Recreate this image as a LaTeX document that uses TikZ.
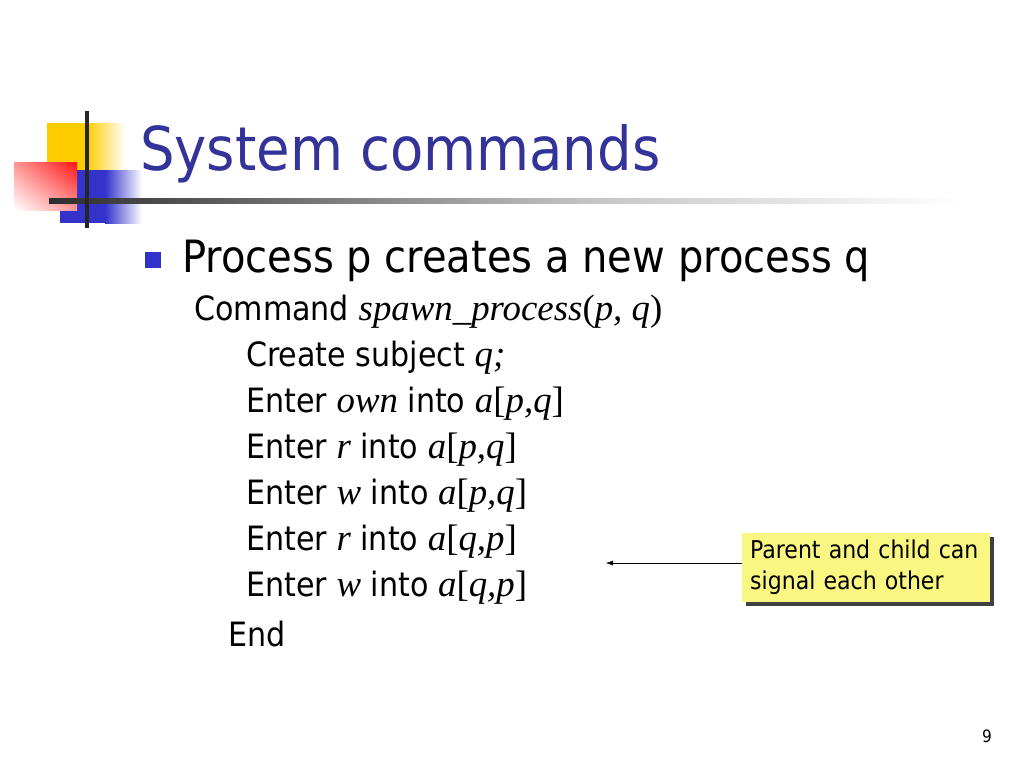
\documentclass[tikz,border=0pt]{standalone}
\usepackage{fontspec}
\setmainfont{DejaVu Sans Condensed}
\newfontfamily\tms{Liberation Serif}[Scale=1.1]
\usepackage{xcolor}
\usetikzlibrary{shapes, arrows, arrows.meta, shadows, shadings, positioning, calc}

\definecolor{titleblue}{RGB}{51,51,153}
\definecolor{bulletblue}{RGB}{51,51,204}
\definecolor{logoyellow}{RGB}{255,204,0}
\definecolor{logored}{RGB}{255,20,20}
\definecolor{notefill}{RGB}{250,246,130}
\definecolor{rulegray}{RGB}{45,45,45}

\newcommand{\ti}[1]{{\tms\itshape #1}}
\newcommand{\tu}[1]{{\tms #1}}

\tikzset{
  title/.style={anchor=base west, inner sep=0pt, text=titleblue, font=\fontsize{60.5}{70}\selectfont},
  level one/.style={anchor=base west, inner sep=0pt, font=\fontsize{44.5}{50}\selectfont},
  level two/.style={anchor=base west, inner sep=0pt, font=\fontsize{33.5}{40}\selectfont},
  note/.style={anchor=north west, fill=notefill, align=left, text width=232pt,
    minimum height=69pt, inner xsep=8pt, inner ysep=6pt,
    font=\fontsize{24.5}{31}\selectfont,
    drop shadow={shadow xshift=4pt, shadow yshift=-4pt, fill=black!75, opacity=1}},
}

\begin{document}
\begin{tikzpicture}[x=1pt,y=-1pt]
      \useasboundingbox[fill=white] (0,0) rectangle (1024,768);

      % logo
      \fill[logoyellow] (47,123) rectangle (87,170);
      \shade[left color=logoyellow, right color=white] (87,123) rectangle (125,170);
      \fill[bulletblue] (60,170) rectangle (105,223);
      \shade[left color=bulletblue, right color=white] (105,170) rectangle (142,223);
      \shade[upper left=logored!45, upper right=logored, lower left=white, lower right=logored!45]
        (14,162) rectangle (77,210);
      \shade[left color=rulegray, right color=black!22] (49,198) rectangle (600,203);
      \shade[left color=black!22, right color=white] (600,198) rectangle (962,203);
      \fill[black!85] (85,111) rectangle (89,228);

      % title and text
      \node[title] (title) at (140,170) {System commands};
      \fill[bulletblue] (145,252) rectangle (161,268);
      \node[level one] (create) at (182,272) {Process p creates a new process q};
      \node[level two] (cmd) at (194,320) {Command \ti{spawn\_process}\tu{(}\ti{p, q}\tu{)}};
      \node[level two] (subj) at (246,366) {Create subject \ti{q;}};
      \node[level two] (own) at (246,412) {Enter \ti{own} into \ti{a}\tu{[}\ti{p,q}\tu{]}};
      \node[level two] (rpq) at (246,458) {Enter \ti{r} into \ti{a}\tu{[}\ti{p,q}\tu{]}};
      \node[level two] (wpq) at (246,504) {Enter \ti{w} into \ti{a}\tu{[}\ti{p,q}\tu{]}};
      \node[level two] (rqp) at (246,550) {Enter \ti{r} into \ti{a}\tu{[}\ti{q,p}\tu{]}};
      \node[level two] (wqp) at (246,596) {Enter \ti{w} into \ti{a}\tu{[}\ti{q,p}\tu{]}};
      \node[level two] (end) at (228,646) {End};

      % callout
      \node[note] (sig) at (742,533) {Parent and child can\\signal each other};
      \coordinate (tip) at (606,563);
      \draw[-{Latex[length=7pt,width=5pt]}] (sig.west |- tip) -- (tip);

      \node[anchor=base east, inner sep=0pt, font=\fontsize{17}{20}\selectfont] (page) at (992,742) {9};
    \end{tikzpicture}
\end{document}
